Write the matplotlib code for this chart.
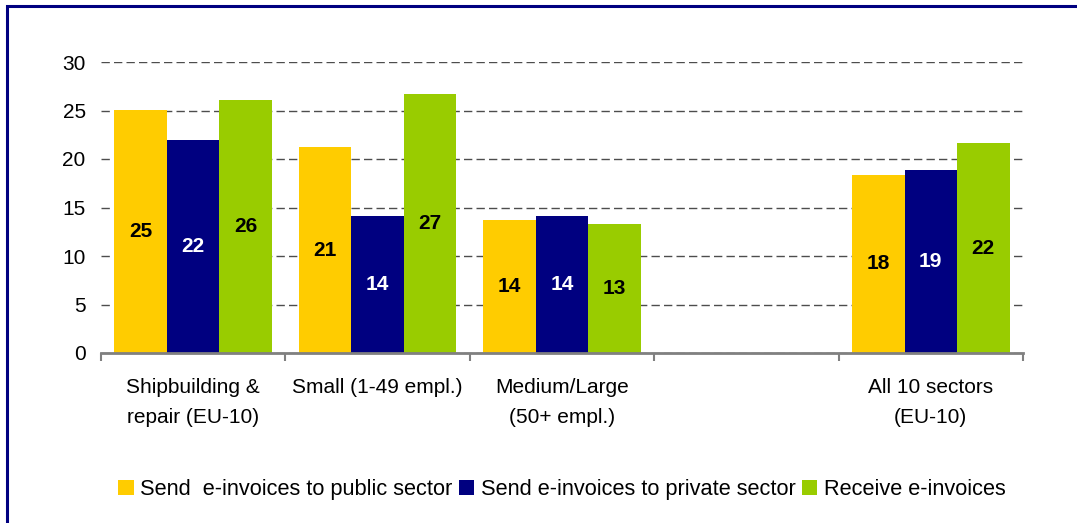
import matplotlib
matplotlib.use("Agg")
import matplotlib.pyplot as plt
from matplotlib.patches import Rectangle
from matplotlib.ticker import FixedLocator
import numpy as np

plt.rcParams['font.family'] = ['Liberation Sans', 'DejaVu Sans']

categories = ["Shipbuilding &\nrepair (EU-10)", "Small (1-49 empl.)",
              "Medium/Large\n(50+ empl.)", "", "All 10 sectors\n(EU-10)"]
series_names = ["Send  e-invoices to public sector",
                "Send e-invoices to private sector",
                "Receive e-invoices"]
send_public = [25.1, 21.2, 13.7, None, 18.4]
send_private = [22.0, 14.1, 14.1, None, 18.9]
receive = [26.1, 26.7, 13.3, None, 21.6]
yticks = [0, 5, 10, 15, 20, 25, 30]

colors = ["#FFCC00", "#000080", "#99CC00"]
label_colors = ["black", "white", "black"]

fig = plt.figure(figsize=(10.77, 5.23), dpi=100)
ax = fig.add_axes([101 / 1077, 1 - 353 / 523, 922 / 1077, 291 / 523])

# Navy frame around the chart area
fig.patches.append(Rectangle((7 / 1077, -0.1), 1.2, (523 - 6) / 523 + 0.1,
                             transform=fig.transFigure, fill=False,
                             edgecolor="#000080", linewidth=2.2))

width = 0.285
x = np.arange(len(categories))
for i, (vals, col, lc) in enumerate(zip([send_public, send_private, receive],
                                        colors, label_colors)):
    xs = [xi + (i - 1) * width for xi, v in zip(x, vals) if v is not None]
    vs = [v for v in vals if v is not None]
    bars = ax.bar(xs, vs, width=width, color=col, label=series_names[i],
                  zorder=3, linewidth=0)
    for b, v in zip(bars, vs):
        ax.text(b.get_x() + b.get_width() / 2, v / 2, f"{v:.0f}",
                ha="center", va="center", color=lc, fontsize=15,
                fontweight="bold", zorder=4)

ax.set_xlim(-0.5, len(categories) - 0.5)
ax.set_ylim(0, 30)
ax.set_yticks(yticks)
ax.tick_params(axis="y", length=0, pad=11, labelsize=15)
ax.yaxis.grid(True, linestyle=(0, (6.0, 3.0)), color="#4d4d4d", linewidth=1.0,
              zorder=1)

ax.set_xticks(x)
ax.set_xticklabels(categories, fontsize=15)
for lbl in ax.get_xticklabels():
    lbl.set_linespacing(1.75)
ax.tick_params(axis="x", which="major", length=0, pad=18)
ax.xaxis.set_minor_locator(FixedLocator(np.arange(-0.5, len(categories), 1.0)))
ax.tick_params(axis="x", which="minor", length=6, width=1.5, color="#808080",
               direction="out")

for s in ["left", "right", "top"]:
    ax.spines[s].set_visible(False)
ax.spines["bottom"].set_color("#808080")
ax.spines["bottom"].set_linewidth(2)
ax.spines["bottom"].set_zorder(5)

ax.legend(loc="center", bbox_to_anchor=(0.5, -0.47), ncol=3, frameon=False,
          fontsize=15.7, handlelength=0.7, handleheight=0.7, handletextpad=0.3,
          columnspacing=0.3)

fig.savefig("out.png", dpi=100)
